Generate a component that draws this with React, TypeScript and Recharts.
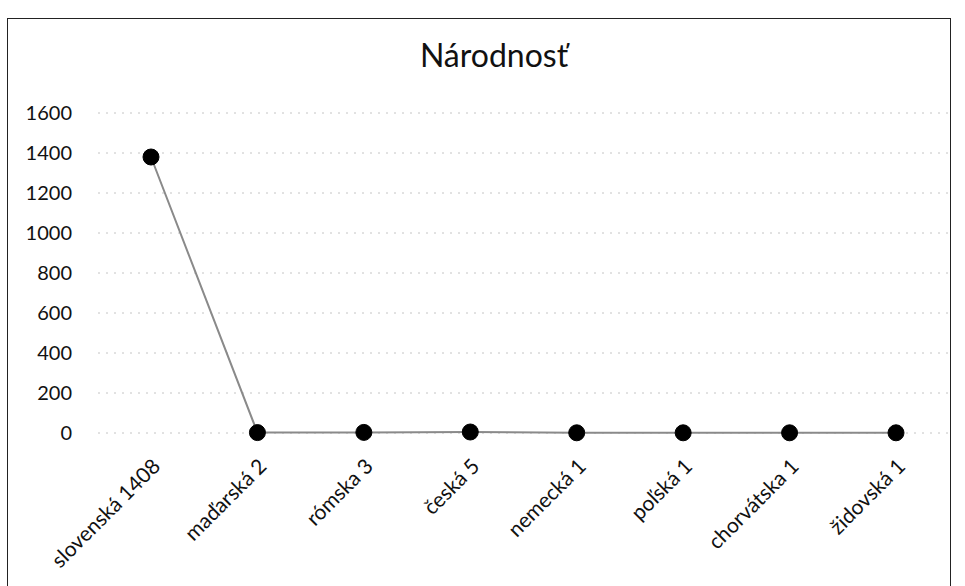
import { CartesianGrid, Line, LineChart, XAxis, YAxis } from 'recharts';

const categories = ['slovenská 1408', 'maďarská 2', 'rómska 3', 'česká 5', 'nemecká 1', 'poľská 1', 'chorvátska 1', 'židovská 1'];
const counts = [1380, 2, 3, 5, 1, 1, 1, 1];
const yTicks = [0, 200, 400, 600, 800, 1000, 1200, 1400, 1600];

const data = categories.map((name, i) => ({ name, value: counts[i] }));

const font = 'Lato, "Open Sans", sans-serif';

export default function App() {
  return (
    <div style={{ position: 'absolute', left: 0, top: 0, width: 965, height: 586, background: '#fff', overflow: 'hidden', fontFamily: font }}>
      <div
        style={{
          position: 'absolute', left: 7, top: 18, width: 944, height: 600,
          border: '1.5px solid #222', boxSizing: 'border-box',
        }}
      />
      <div style={{ position: 'absolute', left: 0, top: 36, width: 988, textAlign: 'center', fontSize: 32, lineHeight: '38px', color: '#111' }}>
        Národnosť
      </div>
      <div style={{ position: 'absolute', left: 0, top: 0 }}>
        <LineChart width={965} height={586} data={data} margin={{ top: 113, right: 16, bottom: 0, left: 8 }}>
          <CartesianGrid vertical={false} stroke="#c4c4c4" strokeDasharray="2 6" />
          <XAxis
            dataKey="name"
            interval={0}
            axisLine={false}
            tickLine={false}
            height={153}
            padding={{ left: 53, right: 53 }}
            tickMargin={18}
            tick={{ angle: -45, textAnchor: 'end', fontSize: 21, fill: '#111', fontFamily: font }}
          />
          <YAxis
            width={90}
            domain={[0, 1600]}
            ticks={yTicks}
            axisLine={false}
            tickLine={false}
            tickMargin={20}
            tick={{ fontSize: 20, fill: '#111', fontFamily: font }}
          />
          <Line
            type="linear"
            dataKey="value"
            stroke="#8a8a8a"
            strokeWidth={2}
            dot={{ r: 8, fill: '#000', stroke: '#000', strokeWidth: 1 }}
            activeDot={false}
            isAnimationActive={false}
          />
        </LineChart>
      </div>
    </div>
  );
}
